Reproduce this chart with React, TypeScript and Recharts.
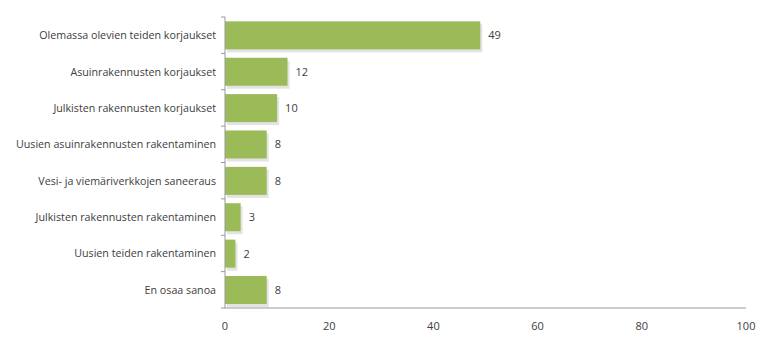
import { BarChart, Bar, XAxis, YAxis, LabelList } from 'recharts';

const categories = [
  'Olemassa olevien teiden korjaukset',
  'Asuinrakennusten korjaukset',
  'Julkisten rakennusten korjaukset',
  'Uusien asuinrakennusten rakentaminen',
  'Vesi- ja viemäriverkkojen saneeraus',
  'Julkisten rakennusten rakentaminen',
  'Uusien teiden rakentaminen',
  'En osaa sanoa'
];
const values = [49, 12, 10, 8, 8, 3, 2, 8];
const xTicks = [0, 20, 40, 60, 80, 100];

const data = categories.map((name, i) => ({ name, value: values[i] }));

const FONT = '"Open Sans", sans-serif';
const TEXT = '#404040';
const AXIS = '#999999';
const TOP = 17;
const BOTTOM_AXIS = 30;
const BOTTOM = 5;
const H = 343;
const BAND = (H - TOP - BOTTOM - BOTTOM_AXIS) / categories.length;

// bar with a soft drop shadow like the original
const ShadowBar = (props: any) => {
  const { x, y, width, height } = props;
  if (!width || width <= 0) return null;
  return (
    <g>
      <rect x={x + 2} y={y + 3} width={width} height={height} fill="#d0d0d0" opacity={0.6} />
      <rect x={x} y={y} width={width} height={height} fill="#9BBB59" />
    </g>
  );
};

// single-line category label, plus the small tick marks between categories
const CatTick = (props: any) => {
  const { x, y, payload, index } = props;
  const last = index === categories.length - 1;
  return (
    <g>
      <line x1={x - 4} x2={x} y1={y - BAND / 2} y2={y - BAND / 2} stroke={AXIS} />
      {last && <line x1={x - 4} x2={x} y1={y + BAND / 2} y2={y + BAND / 2} stroke={AXIS} />}
      <text
        x={x - 9}
        y={y}
        dy={4}
        textAnchor="end"
        fill={TEXT}
        fontSize={10.7}
        fontFamily={FONT}
      >
        {payload.value}
      </text>
    </g>
  );
};

export default function App() {
  return (
    <div style={{ position: 'absolute', left: 0, top: 0 }}>
      <BarChart
        width={769}
        height={H}
        data={data}
        layout="vertical"
        barCategoryGap="12%"
        margin={{ top: TOP, right: 23, left: 0, bottom: BOTTOM }}
      >
        <XAxis
          type="number"
          domain={[0, 100]}
          ticks={xTicks}
          tickLine={false}
          axisLine={{ stroke: AXIS }}
          tick={{ fill: TEXT, fontSize: 11, fontFamily: FONT }}
          tickMargin={8}
          height={BOTTOM_AXIS}
        />
        <YAxis
          type="category"
          dataKey="name"
          width={225}
          axisLine={{ stroke: AXIS }}
          tickLine={false}
          tickSize={0}
          tickMargin={0}
          tick={CatTick}
          interval={0}
        />
        <Bar dataKey="value" shape={ShadowBar} isAnimationActive={false}>
          <LabelList
            dataKey="value"
            position="right"
            offset={8}
            fill={TEXT}
            fontSize={11}
            fontFamily={FONT}
          />
        </Bar>
      </BarChart>
    </div>
  );
}
